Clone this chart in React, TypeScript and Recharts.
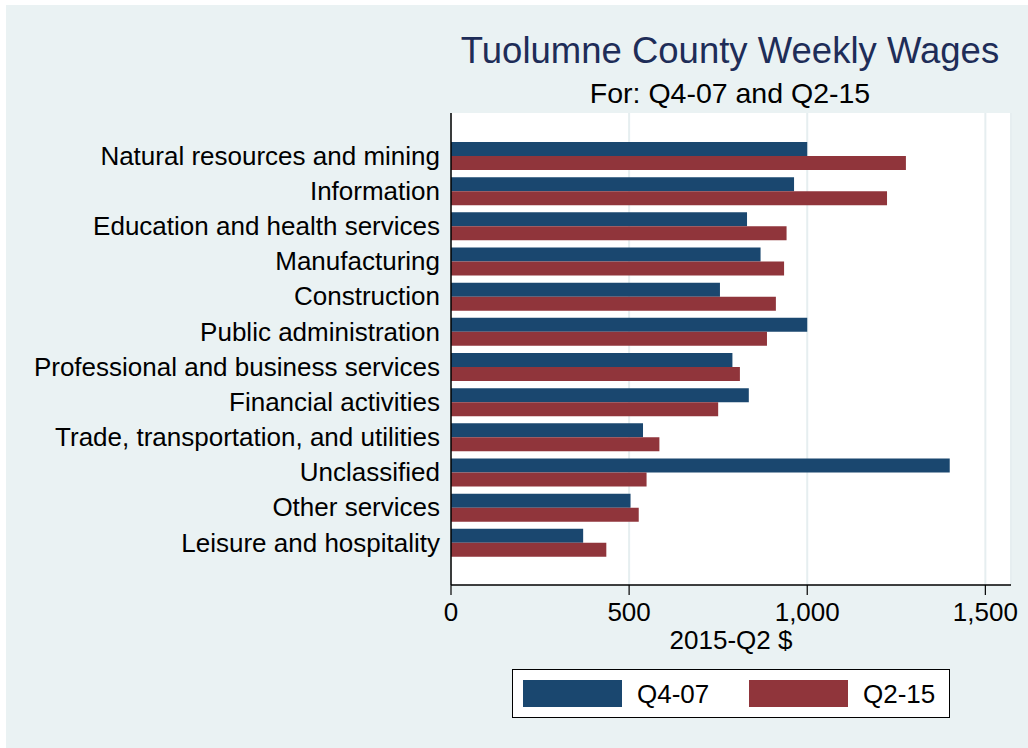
import React from 'react';
import { BarChart, Bar, XAxis, YAxis, CartesianGrid } from 'recharts';

const categories = [
  'Natural resources and mining',
  'Information',
  'Education and health services',
  'Manufacturing',
  'Construction',
  'Public administration',
  'Professional and business services',
  'Financial activities',
  'Trade, transportation, and utilities',
  'Unclassified',
  'Other services',
  'Leisure and hospitality',
];
const q407 = [1000, 963, 831, 869, 755, 1000, 790, 836, 539, 1400, 504, 371];
const q215 = [1277, 1224, 942, 935, 912, 887, 811, 750, 585, 549, 527, 436];
const xTicks = [0, 500, 1000, 1500];
const seriesNames = ['Q4-07', 'Q2-15'];

const data = categories.map((name, i) => ({ name, q407: q407[i], q215: q215[i] }));

const NAVY = '#1A476F';
const MAROON = '#90353B';
const BG = '#EAF2F3';
const FONT = '"Liberation Sans", Arial, Helvetica, sans-serif';
const seriesColors = [NAVY, MAROON];

const fmt = (v: number) => v.toLocaleString('en-US');

function LegendBox() {
  return (
    <div
      style={{
        position: 'absolute',
        left: 512,
        top: 669,
        width: 438,
        height: 49,
        border: '1.5px solid #000',
        background: '#fff',
        boxSizing: 'border-box',
        fontFamily: FONT,
      }}
    >
      {seriesNames.map((name, i) => (
        <React.Fragment key={i}>
          <div
            style={{
              position: 'absolute',
              left: 10 + i * 226,
              top: 9.5,
              width: 99,
              height: 27,
              background: seriesColors[i],
            }}
          />
          <div
            style={{
              position: 'absolute',
              left: 124 + i * 226,
              top: 11,
              fontSize: 26,
              lineHeight: '26px',
              color: '#000',
              whiteSpace: 'nowrap',
            }}
          >
            {name}
          </div>
        </React.Fragment>
      ))}
    </div>
  );
}

export default function App() {
  return (
    <div style={{ position: 'absolute', left: 0, top: 0, width: 1028, height: 748, background: '#fff', fontFamily: FONT }}>
      <div style={{ position: 'absolute', left: 6, top: 5, width: 1022, height: 743, background: BG }} />
      <div
        style={{
          position: 'absolute',
          left: 430,
          width: 600,
          top: 33,
          textAlign: 'center',
          fontSize: 36.5,
          lineHeight: '36.5px',
          color: '#1e2d58',
          whiteSpace: 'nowrap',
        }}
      >
        Tuolumne County Weekly Wages
      </div>
      <div
        style={{
          position: 'absolute',
          left: 430,
          width: 600,
          top: 79,
          textAlign: 'center',
          fontSize: 28.5,
          lineHeight: '28.5px',
          color: '#000',
          whiteSpace: 'nowrap',
        }}
      >
        For: Q4-07 and Q2-15
      </div>
      <div style={{ position: 'absolute', left: 0, top: 0 }}>
        <BarChart
          width={1028}
          height={748}
          data={data}
          layout="vertical"
          margin={{ top: 113, right: 17, bottom: 93, left: 0 }}
          barCategoryGap={4}
          barGap={0}
        >
          <CartesianGrid horizontal={false} vertical={true} stroke="#e6eef0" strokeWidth={2} fill="#fff" fillOpacity={1} />
          <XAxis
            type="number"
            domain={[0, 1572]}
            ticks={xTicks}
            tickFormatter={fmt}
            tickSize={10}
            tickMargin={8}
            height={70}
            axisLine={{ stroke: '#000', strokeWidth: 1.5 }}
            tickLine={{ stroke: '#000', strokeWidth: 1.2 }}
            tick={{ fill: '#000', fontSize: 26, fontFamily: FONT }}
            allowDataOverflow
            label={{ value: '2015-Q2 $', position: 'insideBottom', offset: 6, fill: '#000', fontSize: 26, fontFamily: FONT }}
          />
          <YAxis
            type="category"
            dataKey="name"
            width={451}
            padding={{ top: 25, bottom: 25 }}
            tickLine={false}
            tickSize={6}
            tickMargin={5}
            interval={0}
            axisLine={{ stroke: '#000', strokeWidth: 1.5 }}
            tick={{ fill: '#000', fontSize: 26, fontFamily: FONT }}
          />
          <Bar dataKey="q407" name={seriesNames[0]} fill={NAVY} isAnimationActive={false} />
          <Bar dataKey="q215" name={seriesNames[1]} fill={MAROON} isAnimationActive={false} />
        </BarChart>
      </div>
      <LegendBox />
    </div>
  );
}
